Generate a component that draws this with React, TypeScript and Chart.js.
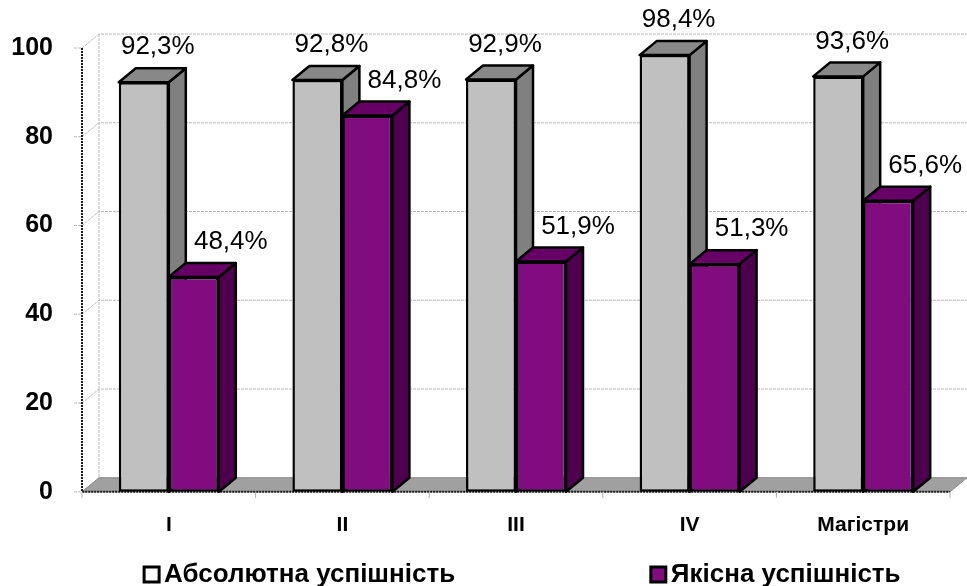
import React, { useEffect, useRef } from 'react';
import { Chart, registerables } from 'chart.js';

Chart.register(...registerables);

// ---- Data ----
const categories = ['I', 'II', 'III', 'IV', 'Магістри'];
const absoluteSuccess = [92.3, 92.8, 92.9, 98.4, 93.6];
const qualitySuccess = [48.4, 84.8, 51.9, 51.3, 65.6];
const seriesNames = ['Абсолютна успішність', 'Якісна успішність'];
const yMin = 0;
const yMax = 100;
const yStep = 20;

// ---- Styles ----
const FONT = '"Liberation Sans", Arial, Helvetica, sans-serif';
const DX = 17;
const DY = -14;
const seriesStyles = [
  { front: '#c0c0c0', top: '#888888', side: '#808080', legend: '#ffffff', labelDx: 14 },
  { front: '#800c80', top: '#660066', side: '#4e004e', legend: '#800c80', labelDx: 37 },
];
const legendStarts = [0.148, 0.672];

const fmt = (v: number) => v.toFixed(1).replace('.', ',') + '%';

const threeDPlugin = {
  id: 'threeD',
  beforeDatasetsDraw(chart: any) {
    const { ctx, chartArea: a, scales } = chart;
    const y = scales.y;
    const n = categories.length;
    ctx.save();

    // back wall and left wall gridlines
    ctx.lineWidth = 1;
    ctx.strokeStyle = '#b8b8b8';
    ctx.setLineDash([3, 1]);
    y.ticks.forEach((t: any) => {
      const py = y.getPixelForValue(t.value);
      ctx.beginPath();
      ctx.moveTo(a.left - 8, py);
      ctx.lineTo(a.left, py);
      ctx.lineTo(a.left + DX, py + DY);
      ctx.lineTo(a.right + DX, py + DY);
      ctx.stroke();
    });
    ctx.beginPath();
    ctx.moveTo(a.left + DX, a.top + DY);
    ctx.lineTo(a.left + DX, a.bottom + DY);
    ctx.stroke();

    // floor
    ctx.setLineDash([]);
    ctx.fillStyle = '#a0a0a0';
    ctx.beginPath();
    ctx.moveTo(a.left, a.bottom);
    ctx.lineTo(a.right, a.bottom);
    ctx.lineTo(a.right + DX, a.bottom + DY);
    ctx.lineTo(a.left + DX, a.bottom + DY);
    ctx.closePath();
    ctx.fill();
    ctx.strokeStyle = '#8a8a8a';
    ctx.lineWidth = 1;
    ctx.stroke();

    // front axes
    ctx.strokeStyle = '#1a1a1a';
    ctx.lineWidth = 2;
    ctx.setLineDash([2, 1]);
    ctx.beginPath();
    ctx.moveTo(a.left, a.top);
    ctx.lineTo(a.left, a.bottom);
    ctx.lineTo(a.right, a.bottom);
    ctx.stroke();
    ctx.setLineDash([]);

    // category boundary tick marks
    ctx.strokeStyle = '#b0b0b0';
    ctx.lineWidth = 1;
    for (let i = 0; i <= n; i++) {
      const px = a.left + (i * (a.right - a.left)) / n;
      ctx.beginPath();
      ctx.moveTo(px, a.bottom);
      ctx.lineTo(px, a.bottom + 6);
      ctx.stroke();
    }

    // 3D side and top faces of bars
    ctx.lineWidth = 2.5;
    ctx.lineJoin = 'round';
    ctx.strokeStyle = '#000';
    for (let i = 0; i < n; i++) {
      for (let d = 0; d < 2; d++) {
        const el = chart.getDatasetMeta(d).data[i];
        if (!el) continue;
        const { x: cx, y: ty, base, width } = el.getProps(['x', 'y', 'base', 'width'], true);
        const l = cx - width / 2;
        const r = cx + width / 2;
        const st = seriesStyles[d];
        // side
        ctx.fillStyle = st.side;
        ctx.beginPath();
        ctx.moveTo(r, ty);
        ctx.lineTo(r + DX, ty + DY);
        ctx.lineTo(r + DX, base + DY);
        ctx.lineTo(r, base);
        ctx.closePath();
        ctx.fill();
        ctx.stroke();
        // top
        ctx.fillStyle = st.top;
        ctx.beginPath();
        ctx.moveTo(l, ty);
        ctx.lineTo(l + DX, ty + DY);
        ctx.lineTo(r + DX, ty + DY);
        ctx.lineTo(r, ty);
        ctx.closePath();
        ctx.fill();
        ctx.stroke();
      }
    }
    ctx.restore();
  },
  afterDatasetsDraw(chart: any) {
    const { ctx } = chart;
    ctx.save();
    ctx.font = `26px ${FONT}`;
    ctx.fillStyle = '#000';
    ctx.textAlign = 'center';
    ctx.textBaseline = 'middle';
    chart.data.datasets.forEach((ds: any, d: number) => {
      const meta = chart.getDatasetMeta(d);
      meta.data.forEach((el: any, i: number) => {
        const { x: cx, y: ty } = el.getProps(['x', 'y'], true);
        ctx.fillText(fmt(ds.data[i]), cx + seriesStyles[d].labelDx, ty - 35);
      });
    });
    ctx.restore();
  },
  afterDraw(chart: any) {
    const { ctx, width, height } = chart;
    ctx.save();
    const cy = height - 12;
    ctx.font = `bold 26px ${FONT}`;
    ctx.textBaseline = 'middle';
    ctx.textAlign = 'left';
    seriesNames.forEach((name, d) => {
      const x0 = legendStarts[d] * width;
      ctx.fillStyle = seriesStyles[d].legend;
      ctx.fillRect(x0 + 1, cy - 7, 15, 15);
      ctx.strokeStyle = '#000';
      ctx.lineWidth = 3;
      ctx.strokeRect(x0 + 1, cy - 7, 15, 15);
      ctx.fillStyle = '#000';
      ctx.fillText(name, x0 + 21, cy + 1);
    });
    ctx.restore();
  },
};

export default function App() {
  const ref = useRef<HTMLCanvasElement | null>(null);
  useEffect(() => {
    if (!ref.current) return;
    const chart = new Chart(ref.current, {
      type: 'bar',
      data: {
        labels: categories,
        datasets: [
          {
            label: seriesNames[0],
            data: absoluteSuccess,
            backgroundColor: seriesStyles[0].front,
            borderColor: '#000',
            borderWidth: 2.5,
            borderSkipped: false,
          },
          {
            label: seriesNames[1],
            data: qualitySuccess,
            backgroundColor: seriesStyles[1].front,
            borderColor: '#000',
            borderWidth: 2.5,
            borderSkipped: false,
          },
        ],
      },
      options: {
        animation: false,
        responsive: true,
        maintainAspectRatio: false,
        layout: { padding: { top: 48, right: 17, bottom: 27, left: 0 } },
        datasets: { bar: { categoryPercentage: 0.576, barPercentage: 1 } },
        plugins: { legend: { display: false }, tooltip: { enabled: false } },
        scales: {
          x: {
            grid: { display: false, drawTicks: false },
            border: { display: false },
            ticks: { padding: 21, color: '#000', font: { family: FONT, size: 21, weight: 'bold' } },
          },
          y: {
            min: yMin,
            max: yMax,
            grid: { display: false, drawTicks: false },
            border: { display: false },
            ticks: { stepSize: yStep, padding: 29, color: '#000', font: { family: FONT, size: 25, weight: 'bold' } },
            afterFit: (s: any) => {
              s.width = 82;
            },
          },
        },
      },
      plugins: [threeDPlugin],
    } as any);
    return () => chart.destroy();
  }, []);
  return (
    <div style={{ position: 'absolute', left: 0, top: 0, width: 967, height: 586, background: '#fff' }}>
      <canvas ref={ref} />
    </div>
  );
}
